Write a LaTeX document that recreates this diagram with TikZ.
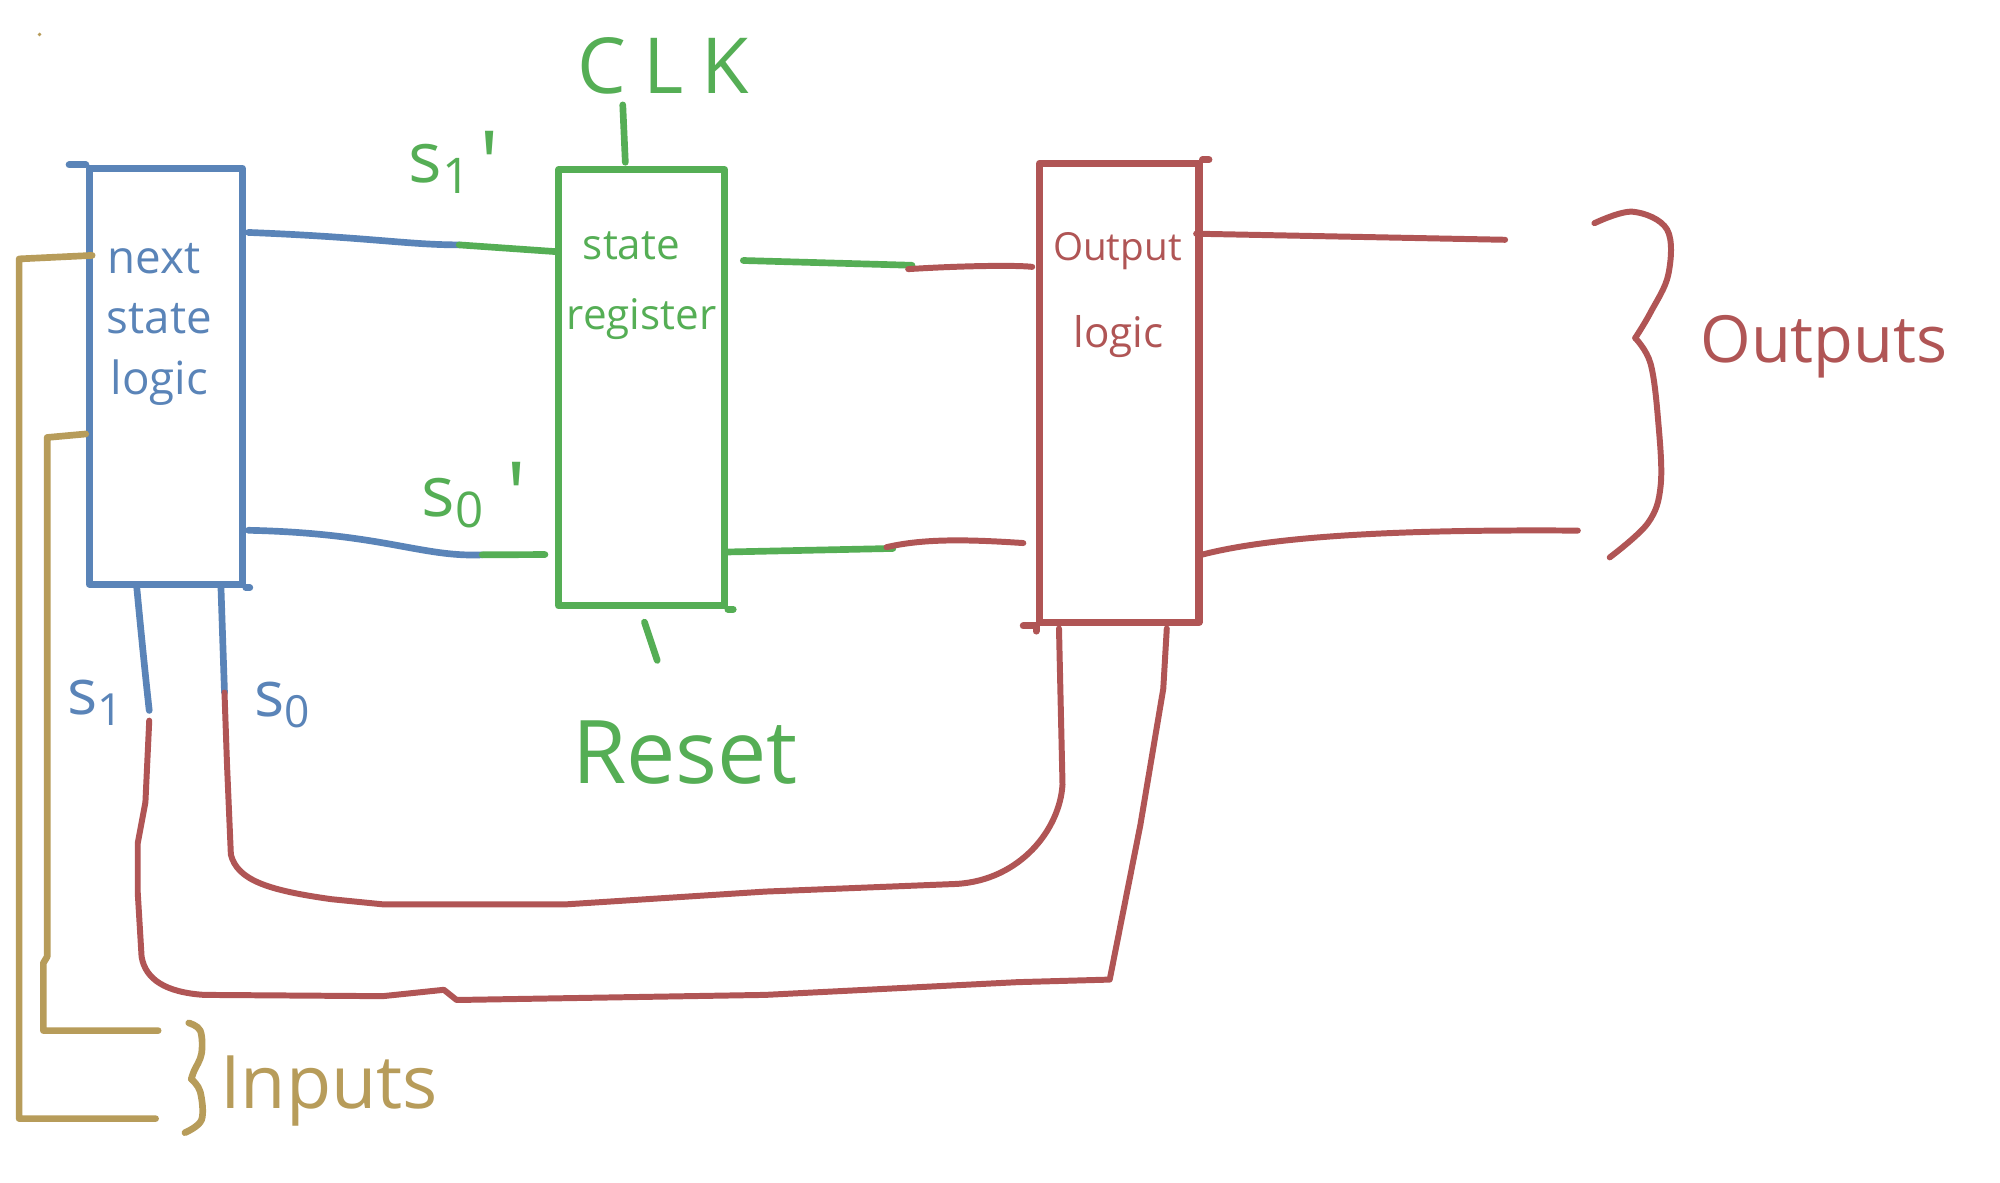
\documentclass[tikz,border=0pt]{standalone}
\usepackage{fontspec}
\setmainfont{Open Sans}
\usetikzlibrary{calc,fit}
\definecolor{cblue}{HTML}{5A84B8}
\definecolor{cgreen}{HTML}{55AE55}
\definecolor{cred}{HTML}{B05555}
\definecolor{ctan}{HTML}{B79C5A}
\tikzset{
  boxline/.style={line width=2pt, line cap=round, line join=round},
  blockbox/.style={boxline, draw=#1, inner sep=0pt},
  bwire/.style={line width=1.9pt, line cap=round, line join=round, draw=cblue},
  gwire/.style={line width=1.9pt, line cap=round, line join=round, draw=cgreen},
  rwire/.style={line width=1.7pt, line cap=round, line join=round, draw=cred},
  twire/.style={line width=1.9pt, line cap=round, line join=round, draw=ctan},
  smalltxt/.style={font=\fontsize{#1}{#1}\selectfont, inner sep=0pt},
  bigtxt/.style={font=\fontsize{#1}{#1}\selectfont, inner sep=0pt},
}
\newcommand{\primemark}[1]{\raisebox{#1}{\fontsize{26}{26}\selectfont\textquotesingle}}
\begin{document}
\begin{tikzpicture}[x=0.012755cm, y=-0.012755cm]
\useasboundingbox (0,0) rectangle (1568,927);
\fill[white] (0,0) rectangle (1568,927);

% ---- blocks ----
\node[blockbox=cblue, fit={(70,132) (190,458)}] (nsl) {};
\node[blockbox=cgreen, fit={(438,133) (568,475)}] (sr) {};
\node[blockbox=cred, fit={(815,128) (940,488)}] (ol) {};

% hand-drawn overshoots
\draw[boxline, cblue] (nsl.north west) -- ++(-13,0);
\draw[boxline, cblue] (nsl.south east) -- ++(3,0);
\draw[boxline, cgreen] (sr.south east) -- ++(4,0);
\draw[boxline, cred] (ol.north east) -- ++(5,0);
\draw[boxline, cred] (ol.south west) -- ++(-10,0);
\draw[boxline, cred] (ol.south west) -- ++(0,4);

% ---- block texts ----
\node[smalltxt=13, text=cblue] (t1) at (121,203) {next};
\node[smalltxt=13, text=cblue] (t2) at (125,250) {state};
\node[smalltxt=13, text=cblue] (t3) at (125,300) {logic};
\node[smalltxt=12, text=cgreen] (t4) at (495,193) {state};
\node[smalltxt=12, text=cgreen] (t5) at (503,250) {register};
\node[smalltxt=11, text=cred] (t6) at (876,197) {Output};
\node[smalltxt=12, text=cred] (t7) at (877,264) {logic};

% ---- clock and reset ----
\node[bigtxt=22, text=cgreen] (clk) at (520,52) {C\kern5pt L\kern5pt K};
\draw[gwire] ($(sr.north west)+(55,-3)$) -- ($(sr.north west)+(53,-48)$);
\node[bigtxt=25, text=cgreen] (rst) at (537,590) {Reset};
\draw[gwire] ($(sr.south west)+(70,10)$) -- ($(sr.south west)+(80,40)$);

% ---- next state -> state register ----
\coordinate (j1) at (360,192);
\coordinate (j2) at (378,435);
\draw[bwire] ($(nsl.north east)+(2,53)$) .. controls (290,186) and (320,192) .. (j1);
\draw[gwire] (j1) -- ($(sr.north west)+(0,67)$);
\draw[bwire] ($(nsl.south east)+(2,-45)$) .. controls (300,418) and (330,437) .. (j2);
\draw[gwire] (j2) -- ($(sr.south west)+(-8,-43)$);
\node[bigtxt=20, text=cgreen, anchor=base west] (s1p) at (320,143) {s\textsubscript{1}\kern2pt\primemark{-4pt}};
\node[bigtxt=20, text=cgreen, anchor=base west] (s0p) at (330,405) {s\textsubscript{0}\kern6pt\primemark{-3pt}};

% ---- state register -> output logic ----
\coordinate (j3) at (715,208);
\coordinate (j4) at (700,430);
\draw[gwire] ($(sr.north east)+(12,74)$) -- (j3);
\draw[rwire] ($(j3)+(-3,3)$) .. controls (760,208) and (800,208) .. ($(ol.north west)+(-3,84)$);
\draw[gwire] ($(sr.south east)+(0,-45)$) -- (j4);
\draw[rwire] ($(j4)+(-5,-1)$) .. controls (725,422) and (760,423) .. ($(ol.south west)+(-10,-65)$);

% ---- outputs ----
\coordinate (o1) at (1180,188);
\coordinate (o2) at (1237,416);
\draw[rwire] ($(ol.north east)+(-5,58)$) -- (o1);
\draw[rwire] ($(ol.south east)+(0,-56)$) .. controls (1000,420) and (1100,415) .. (o2);
\draw[rwire] plot[smooth, tension=0.6] coordinates {(1250,175) (1280,166) (1307,180) (1308,215) (1294,245) (1282,265)};
\draw[rwire] plot[smooth, tension=0.6] coordinates {(1282,265) (1294,285) (1300,330) (1302,380) (1292,410) (1262,437)};
\node[bigtxt=18.5, text=cred] (outs) at (1430,272) {Outputs};

% ---- feedback from output logic to next state logic ----
\coordinate (j7) at (117,557);
\coordinate (j8) at (176,543);
\draw[bwire] ($(nsl.south west)+(40,0)$) .. controls (111,500) and (114,530) .. (j7);
\draw[bwire] ($(nsl.south west)+(106,0)$) -- (j8);
\node[bigtxt=18, text=cblue] (s1l) at (75,551) {s\textsubscript{1}};
\node[bigtxt=18, text=cblue] (s0l) at (222,553) {s\textsubscript{0}};
\draw[rwire] ($(j7)+(0,8)$) -- (114,629) -- (108,661) -- (108,700) -- (111,750)
  .. controls (114,768) and (130,778) .. (160,780) -- (300,781) -- (348,776)
  -- (358,784) -- (600,780) -- (798,770) -- (870,768) -- (894,647) -- (912,540)
  -- ($(ol.south east)+(-28,2)$);
\draw[rwire] (j8) -- (178,600) -- (181,670)
  .. controls (186,690) and (210,698) .. (260,705) -- (300,709) -- (444,709)
  -- (600,699) -- (750,693) .. controls (800,690) and (831,650) .. (833,615)
  -- ($(ol.south west)+(18,2)$);

% ---- inputs ----
\coordinate (i1) at (122,877);
\coordinate (i2) at (124,808);
\draw[twire] ($(nsl.north west)+(5,71)$) -- (15,203) -- (15,877) -- (i1);
\draw[twire] ($(nsl.north west)+(0,211)$) -- (37,343) -- (37,750) -- (34,755) -- (34,808) -- (i2);
\draw[twire] plot[smooth, tension=0.6] coordinates {(148,802) (157,808) (158,826) (152,840) (150,846)};
\draw[twire] plot[smooth, tension=0.6] coordinates {(150,846) (157,856) (158,878) (145,888)};
\node[bigtxt=21, text=ctan] (ins) at (258,855) {Inputs};
\fill[ctan] (31,27) circle (1.5);
\end{tikzpicture}
\end{document}
